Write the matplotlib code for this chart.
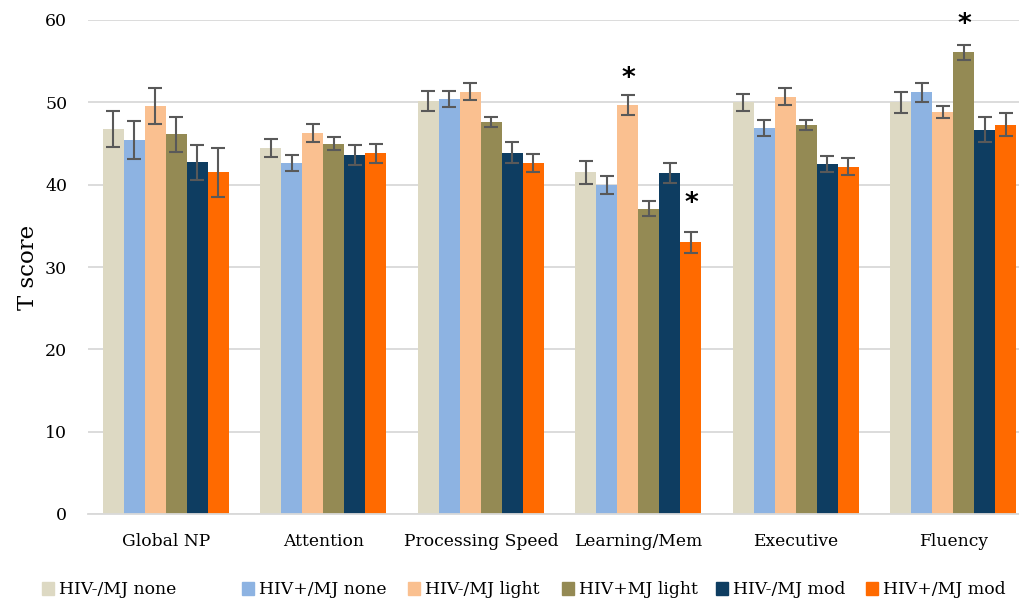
import numpy as np
import matplotlib
matplotlib.use("Agg")
import matplotlib.pyplot as plt
from matplotlib.patches import Patch

# data
categories = ["Global NP", "Attention", "Processing Speed", "Learning/Mem", "Executive", "Fluency"]
groups = ["HIV-/MJ none", "HIV+/MJ none", "HIV-/MJ light", "HIV+MJ light", "HIV-/MJ mod", "HIV+/MJ mod"]

hiv_neg_none = [46.8, 44.5, 50.2, 41.5, 50.0, 50.0]
hiv_pos_none = [45.4, 42.6, 50.4, 40.0, 46.9, 51.2]
hiv_neg_light = [49.6, 46.3, 51.3, 49.7, 50.7, 48.8]
hiv_pos_light = [46.1, 45.0, 47.6, 37.1, 47.3, 56.1]
hiv_neg_mod = [42.7, 43.6, 43.9, 41.4, 42.5, 46.7]
hiv_pos_mod = [41.5, 43.8, 42.6, 33.0, 42.2, 47.3]

err_neg_none = [2.2, 1.1, 1.2, 1.4, 1.0, 1.3]
err_pos_none = [2.3, 1.0, 1.0, 1.1, 1.0, 1.1]
err_neg_light = [2.2, 1.1, 1.0, 1.2, 1.0, 0.7]
err_pos_light = [2.1, 0.8, 0.6, 0.9, 0.6, 0.9]
err_neg_mod = [2.1, 1.2, 1.3, 1.2, 1.0, 1.5]
err_pos_mod = [3.0, 1.2, 1.1, 1.3, 1.0, 1.4]

# significance stars: (category index, group index, y position)
star_cat = [3, 3, 5]
star_grp = [2, 5, 3]
star_y = [52.8, 37.6, 59.4]

values = [hiv_neg_none, hiv_pos_none, hiv_neg_light, hiv_pos_light, hiv_neg_mod, hiv_pos_mod]
errors = [err_neg_none, err_pos_none, err_neg_light, err_pos_light, err_neg_mod, err_pos_mod]
colors = ["#DDD9C3", "#8DB3E2", "#FAC090", "#948A54", "#0E3D61", "#FF6A00"]

plt.rcParams["font.family"] = "DejaVu Serif"

fig = plt.figure(figsize=(10.19, 6.03), dpi=100)
ax = fig.add_axes([88 / 1019, 1 - 514 / 603, 1 - 88 / 1019, 494 / 603])

x = np.arange(len(categories))
width = 0.8 / len(groups)
for i, (vals, errs) in enumerate(zip(values, errors)):
    pos = x - 0.4 + width * (i + 0.5)
    ax.bar(pos, vals, width, color=colors[i], zorder=2)
    ax.errorbar(pos, vals, yerr=errs, fmt="none", ecolor="#595959",
                elinewidth=1.5, capsize=5, capthick=1.5, zorder=3)

for c, g, y in zip(star_cat, star_grp, star_y):
    ax.text(x[c] - 0.4 + width * (g + 0.5), y, "*", ha="center", va="center",
            fontsize=19, fontweight="bold", fontfamily="DejaVu Sans")

ax.set_ylim(0, 60)
ax.set_xlim(-0.495, 5.416)
ax.set_yticks(range(0, 61, 10))
ax.set_xticks(x)
ax.set_xticklabels(categories, fontsize=12.3)
ax.tick_params(axis="y", labelsize=12.5, length=0, pad=15)
ax.tick_params(axis="x", length=0, pad=14)
ax.yaxis.grid(True, color="#D9D9D9", linewidth=1.3, zorder=0)
ax.set_axisbelow(True)
for s in ["top", "right", "left"]:
    ax.spines[s].set_visible(False)
ax.spines["bottom"].set_color("#D9D9D9")
ax.spines["bottom"].set_linewidth(1.3)
ax.set_ylabel("T score", fontsize=16.5)
ax.yaxis.set_label_coords(-0.053, 0.5)

# legend entries placed one by one like the original
leg_x = [42, 242, 408, 562, 716, 866]
for lx, lab, col in zip(leg_x, groups, colors):
    fig.legend(handles=[Patch(color=col)], labels=[lab], loc="center left",
               bbox_to_anchor=(lx / 1019, 1 - 590 / 603), frameon=False,
               borderpad=0, borderaxespad=0, handlelength=0.7, handleheight=0.7,
               handletextpad=0.3, fontsize=12.4)

fig.savefig("out.png", dpi=100)
